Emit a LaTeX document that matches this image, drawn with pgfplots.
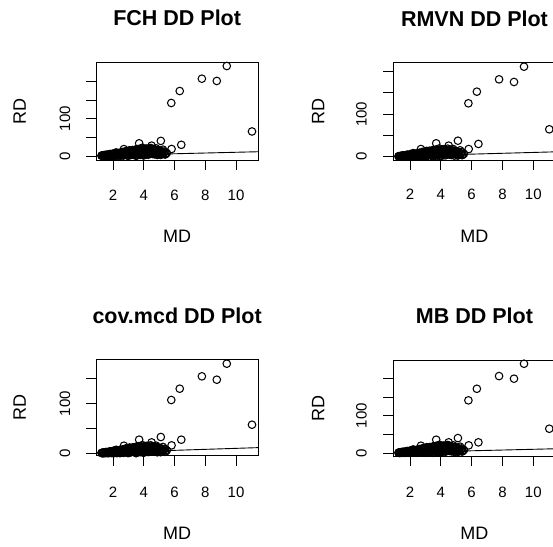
\documentclass[border=0pt]{standalone}
\usepackage{pgfplots}
\pgfplotsset{compat=1.18}
\usepackage{pgfplotstable}
\usepackage{fontspec}
\setmainfont{Liberation Sans}

% x = MD, f = FCH RD, r = RMVN RD, m = cov.mcd RD, b = MB RD
\pgfplotstableread{
x f r m b
1.25 0.8 0.7 0.6 0.8
1.30 1.5 1.3 1.1 1.5
1.35 0.5 0.4 0.4 0.5
1.40 2.2 1.9 1.7 2.2
1.45 1.0 0.9 0.8 1.0
1.50 3.0 2.6 2.3 3.0
1.55 1.8 1.6 1.4 1.8
1.60 0.6 0.5 0.5 0.6
1.65 2.6 2.3 2.0 2.6
1.70 3.8 3.3 2.9 3.8
1.75 1.4 1.2 1.1 1.4
1.80 4.5 4.0 3.4 4.5
1.85 2.2 1.9 1.7 2.2
1.90 0.9 0.8 0.7 0.9
1.95 3.4 3.0 2.6 3.4
2.00 5.2 4.6 3.9 5.2
2.05 1.9 1.7 1.4 1.9
2.10 4.0 3.5 3.0 4.0
2.15 6.0 5.3 4.5 6.0
2.20 2.8 2.5 2.1 2.8
2.25 0.7 0.6 0.5 0.7
2.30 5.0 4.4 3.8 5.0
2.35 7.2 6.3 5.4 7.2
2.40 3.5 3.1 2.6 3.5
2.45 1.5 1.3 1.1 1.5
2.50 6.3 5.5 4.7 6.3
2.55 8.5 7.5 6.4 8.5
2.60 4.2 3.7 3.2 4.2
2.65 2.0 1.8 1.5 2.0
2.70 9.0 7.9 6.8 9.0
2.75 5.8 5.1 4.4 5.8
2.80 11.0 9.7 8.3 11.0
2.85 3.2 2.8 2.4 3.2
2.90 7.5 6.6 5.6 7.5
2.95 1.2 1.1 0.9 1.2
3.00 9.8 8.6 7.4 9.8
3.05 12.5 11.0 9.4 12.5
3.10 5.0 4.4 3.8 5.0
3.15 2.6 2.3 2.0 2.6
3.20 8.2 7.2 6.2 8.2
3.25 13.5 11.9 10.1 13.5
3.30 10.5 9.2 7.9 10.5
3.35 4.0 3.5 3.0 4.0
3.40 15.0 13.2 11.3 15.0
3.45 6.8 6.0 5.1 6.8
3.50 11.8 10.4 8.9 11.8
3.55 1.8 1.6 1.4 1.8
3.60 16.5 14.5 12.4 16.5
3.65 9.0 7.9 6.8 9.0
3.70 13.0 11.4 9.8 13.0
3.75 4.8 4.2 3.6 4.8
3.80 17.5 15.4 13.1 17.5
3.85 7.5 6.6 5.6 7.5
3.90 14.5 12.8 10.9 14.5
3.95 2.5 2.2 1.9 2.5
4.00 18.5 16.3 13.9 18.5
4.05 11.0 9.7 8.3 11.0
4.10 6.0 5.3 4.5 6.0
4.15 15.5 13.6 11.6 15.5
4.20 20.0 17.6 15.0 20.0
4.25 9.0 7.9 6.8 9.0
4.30 3.5 3.1 2.6 3.5
4.35 17.0 15.0 12.8 17.0
4.40 12.5 11.0 9.4 12.5
4.45 21.5 18.9 16.1 21.5
4.50 7.0 6.2 5.3 7.0
4.55 15.0 13.2 11.3 15.0
4.60 10.0 8.8 7.5 10.0
4.65 18.5 16.3 13.9 18.5
4.70 4.5 4.0 3.4 4.5
4.75 13.0 11.4 9.8 13.0
4.80 20.5 18.0 15.4 20.5
4.85 8.5 7.5 6.4 8.5
4.90 16.0 14.1 12.0 16.0
4.95 11.5 10.1 8.6 11.5
5.00 6.0 5.3 4.5 6.0
5.05 14.0 12.3 10.5 14.0
5.10 3.0 2.6 2.3 3.0
5.20 10.0 8.8 7.5 10.0
5.25 17.0 15.0 12.8 17.0
5.30 6.5 5.7 4.9 6.5
5.35 12.0 10.6 9.0 12.0
5.43 5.4 4.8 4.1 5.4
5.50 8.0 7.0 6.0 8.0
2.00 0.5 0.4 0.4 0.5
2.50 1.0 0.9 0.8 1.0
3.00 0.8 0.7 0.6 0.8
3.50 0.4 0.4 0.3 0.4
4.00 1.5 1.3 1.1 1.5
2.20 9.5 8.4 7.1 9.5
3.10 14.0 12.3 10.5 14.0
3.90 22.0 19.4 16.5 22.0
1.28 1.2 1.1 0.9 1.2
1.33 0.3 0.3 0.2 0.3
1.38 1.8 1.6 1.4 1.8
1.42 0.6 0.5 0.5 0.6
1.48 2.5 2.2 1.9 2.5
1.52 0.9 0.8 0.7 0.9
1.58 3.4 3.0 2.6 3.4
1.62 1.5 1.3 1.1 1.5
1.68 2.0 1.8 1.5 2.0
1.72 0.4 0.4 0.3 0.4
1.78 3.0 2.6 2.3 3.0
1.82 5.5 4.8 4.1 5.5
1.88 1.6 1.4 1.2 1.6
1.92 4.2 3.7 3.2 4.2
1.98 2.6 2.3 2.0 2.6
2.02 6.8 6.0 5.1 6.8
2.08 3.2 2.8 2.4 3.2
2.12 1.1 1.0 0.8 1.1
2.18 7.5 6.6 5.6 7.5
2.22 4.6 4.0 3.5 4.6
2.28 2.2 1.9 1.7 2.2
2.32 8.0 7.0 6.0 8.0
2.38 5.6 4.9 4.2 5.6
2.42 0.9 0.8 0.7 0.9
2.48 9.2 8.1 6.9 9.2
2.52 3.8 3.3 2.9 3.8
2.58 6.8 6.0 5.1 6.8
2.62 10.5 9.2 7.9 10.5
2.68 1.3 1.1 1.0 1.3
2.72 7.4 6.5 5.6 7.4
2.78 4.8 4.2 3.6 4.8
2.82 13.0 11.4 9.8 13.0
2.88 9.5 8.4 7.1 9.5
2.92 2.4 2.1 1.8 2.4
2.98 11.5 10.1 8.6 11.5
3.02 6.2 5.5 4.7 6.2
3.08 15.5 13.6 11.6 15.5
3.12 8.8 7.7 6.6 8.8
3.18 3.5 3.1 2.6 3.5
3.22 11.0 9.7 8.3 11.0
3.28 16.0 14.1 12.0 16.0
3.32 6.5 5.7 4.9 6.5
3.38 12.8 11.3 9.6 12.8
3.42 9.6 8.4 7.2 9.6
3.48 17.5 15.4 13.1 17.5
3.52 4.2 3.7 3.2 4.2
3.58 13.5 11.9 10.1 13.5
3.62 7.2 6.3 5.4 7.2
3.68 19.0 16.7 14.3 19.0
3.72 10.2 9.0 7.7 10.2
3.78 3.0 2.6 2.3 3.0
3.82 14.0 12.3 10.5 14.0
3.88 11.8 10.4 8.9 11.8
3.92 6.5 5.7 4.9 6.5
3.98 16.0 14.1 12.0 16.0
4.02 8.0 7.0 6.0 8.0
4.08 19.5 17.2 14.6 19.5
4.12 12.0 10.6 9.0 12.0
4.18 4.8 4.2 3.6 4.8
4.22 14.5 12.8 10.9 14.5
4.28 10.8 9.5 8.1 10.8
4.32 18.0 15.8 13.5 18.0
4.38 6.2 5.5 4.7 6.2
4.42 15.8 13.9 11.9 15.8
4.48 11.2 9.9 8.4 11.2
4.52 19.0 16.7 14.3 19.0
4.58 5.5 4.8 4.1 5.5
4.62 13.8 12.1 10.4 13.8
4.68 9.2 8.1 6.9 9.2
4.72 17.2 15.1 12.9 17.2
4.78 6.8 6.0 5.1 6.8
4.82 12.2 10.7 9.2 12.2
4.88 2.8 2.5 2.1 2.8
4.92 9.5 8.4 7.1 9.5
4.98 15.0 13.2 11.3 15.0
5.02 10.8 9.5 8.1 10.8
5.08 7.0 6.2 5.3 7.0
5.15 12.8 11.3 9.6 12.8
5.18 5.0 4.4 3.8 5.0
5.28 9.0 7.9 6.8 9.0
5.38 4.0 3.5 3.0 4.0
2.71 18.5 18.0 15.3 19.6
3.70 34.0 31.5 27.4 35.6
4.51 27.8 26.0 22.0 28.6
5.11 40.5 37.6 32.8 40.0
5.81 18.8 18.0 16.0 20.5
6.44 30.0 30.0 27.4 28.6
5.79 142.0 125.6 107.2 141.0
6.34 174.0 153.0 129.9 172.0
7.78 207.0 182.0 154.8 206.0
8.75 201.0 175.8 148.0 199.0
9.40 241.0 211.8 180.2 239.0
11.04 65.7 64.5 57.5 65.0
}\dd

\newcommand\ttl{\fontsize{21.5}{24}\selectfont\bfseries}
\newcommand\lbl{\fontsize{18}{20}\selectfont}
\newcommand\tkl{\fontsize{15}{17}\selectfont}

\pgfplotsset{
  ddax/.style={
    scale only axis, width=162.3pt, anchor=south west,
    clip mode=individual,
    axis line style={line width=0.9pt, black},
    tick align=outside, major tick length=10pt,
    tick style={line width=0.9pt, black},
    xtick pos=left, ytick pos=left,
    xtick={2,4,6,8,10},
    xticklabels={}, yticklabels={},
  },
  ddline/.style={black, line width=0.9pt},
  ddmark/.style={only marks, mark=o, mark size=3.8pt, mark options={line width=1.05pt, black}},
}

\begin{document}
\begin{tikzpicture}
\path[use as bounding box] (0pt,0pt) rectangle (553pt,-546pt);
\begin{scope}
\clip (0pt,0pt) rectangle (553pt,-546pt);

% FCH
\begin{axis}[ddax, at={(96pt,-160pt)}, height=97.7pt,
  xmin=0.894, xmax=11.45, ymin=-10.7, ymax=250.9, ytick={0,50,100,150,200}]
\addplot[ddline] coordinates {(0.894,0.894) (11.45,11.45)};
\addplot[ddmark] table[x=x,y=f]{\dd};
\node[yshift=36.5pt,anchor=base,font=\ttl] at (rel axis cs:0.5,1) {FCH DD Plot};
\node[yshift=-82.5pt,anchor=base,font=\lbl] at (rel axis cs:0.5,0) {MD};
\node[xshift=-70pt,anchor=base,font=\lbl,rotate=90] at (rel axis cs:0,0.5) {RD};
\pgfplotsinvokeforeach{2,4,6,8,10}{\node[yshift=-40pt,anchor=base,font=\tkl] at (axis cs:#1,-10.7) {#1};}
\pgfplotsinvokeforeach{0,100}{\node[xshift=-26pt,anchor=base,font=\tkl,rotate=90] at (axis cs:0.894,#1) {#1};}
\end{axis}

% RMVN
\begin{axis}[ddax, at={(393.3pt,-160pt)}, height=97.7pt,
  xmin=0.916, xmax=11.45, ymin=-7.8, ymax=222.1, ytick={0,50,100,150,200}]
\addplot[ddline] coordinates {(0.916,0.916) (11.45,11.45)};
\addplot[ddmark] table[x=x,y=r]{\dd};
\node[yshift=36pt,anchor=base,font=\ttl] at (rel axis cs:0.5,1) {RMVN DD Plot};
\node[yshift=-82.5pt,anchor=base,font=\lbl] at (rel axis cs:0.5,0) {MD};
\node[xshift=-69pt,anchor=base,font=\lbl,rotate=90] at (rel axis cs:0,0.5) {RD};
\pgfplotsinvokeforeach{2,4,6,8,10}{\node[yshift=-39.5pt,anchor=base,font=\tkl] at (axis cs:#1,-7.8) {#1};}
\pgfplotsinvokeforeach{0,100}{\node[xshift=-26.6pt,anchor=base,font=\tkl,rotate=90] at (axis cs:0.916,#1) {#1};}
\end{axis}

% cov.mcd
\begin{axis}[ddax, at={(96pt,-455.7pt)}, height=96pt,
  xmin=0.894, xmax=11.45, ymin=-4.8, ymax=188.2, ytick={0,50,100,150}]
\addplot[ddline] coordinates {(0.894,0.894) (11.45,11.45)};
\addplot[ddmark] table[x=x,y=m]{\dd};
\node[yshift=36.7pt,anchor=base,font=\ttl] at (rel axis cs:0.5,1) {cov.mcd DD Plot};
\node[yshift=-84pt,anchor=base,font=\lbl] at (rel axis cs:0.5,0) {MD};
\node[xshift=-70pt,anchor=base,font=\lbl,rotate=90] at (rel axis cs:0,0.5) {RD};
\pgfplotsinvokeforeach{2,4,6,8,10}{\node[yshift=-41.3pt,anchor=base,font=\tkl] at (axis cs:#1,-4.8) {#1};}
\pgfplotsinvokeforeach{0,100}{\node[xshift=-26pt,anchor=base,font=\tkl,rotate=90] at (axis cs:0.894,#1) {#1};}
\end{axis}

% MB
\begin{axis}[ddax, at={(393.3pt,-456.3pt)}, height=96pt,
  xmin=0.916, xmax=11.45, ymin=-8.8, ymax=248.2, ytick={0,50,100,150,200}]
\addplot[ddline] coordinates {(0.916,0.916) (11.45,11.45)};
\addplot[ddmark] table[x=x,y=b]{\dd};
\node[yshift=37.3pt,anchor=base,font=\ttl] at (rel axis cs:0.5,1) {MB DD Plot};
\node[yshift=-83.4pt,anchor=base,font=\lbl] at (rel axis cs:0.5,0) {MD};
\node[xshift=-69pt,anchor=base,font=\lbl,rotate=90] at (rel axis cs:0,0.5) {RD};
\pgfplotsinvokeforeach{2,4,6,8,10}{\node[yshift=-40.7pt,anchor=base,font=\tkl] at (axis cs:#1,-8.8) {#1};}
\pgfplotsinvokeforeach{0,100}{\node[xshift=-26.6pt,anchor=base,font=\tkl,rotate=90] at (axis cs:0.916,#1) {#1};}
\end{axis}
\end{scope}
\end{tikzpicture}
\end{document}
